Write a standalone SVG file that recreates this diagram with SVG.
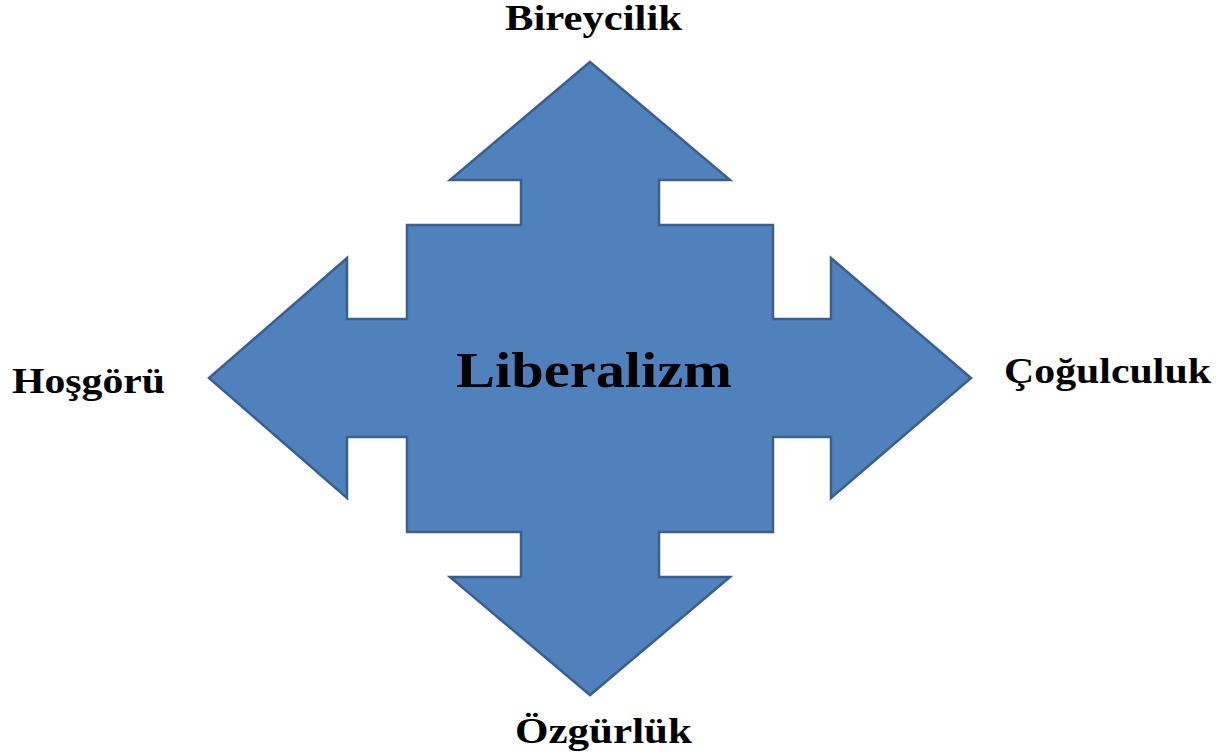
<svg xmlns="http://www.w3.org/2000/svg" width="1223" height="755" viewBox="0 0 1223 755">
<style>
.lbl{font-family:"Liberation Serif","Times New Roman",serif;font-weight:bold;fill:#000;}
.shape{fill:#4F81BD;stroke:#3A5F8C;stroke-width:2.5;stroke-linejoin:miter;}
</style>
<rect width="1223" height="755" fill="#fff"/>
<g id="connectors"></g>
<g id="liberalizm">
<path class="shape" d="M590,62 L730,180 L659,180 L659,225 L773,225 L773,319 L831,319 L831,258 L971,378 L831,498 L831,437 L773,437 L773,532 L659,532 L659,577 L730,577 L590,695 L450,577 L521,577 L521,532 L407,532 L407,437 L347,437 L347,498 L209,378 L347,258 L347,319 L407,319 L407,225 L521,225 L521,180 L450,180 Z"/>
<text class="lbl" x="456" y="387" font-size="50" textLength="276" lengthAdjust="spacingAndGlyphs">Liberalizm</text>
</g>
<g id="bireycilik"><text class="lbl" x="505" y="30" font-size="35" textLength="177" lengthAdjust="spacingAndGlyphs">Bireycilik</text></g>
<g id="hosgoru"><text class="lbl" x="12" y="393" font-size="35" textLength="153" lengthAdjust="spacingAndGlyphs">Hoşgörü</text></g>
<g id="cogulculuk"><text class="lbl" x="1004" y="383" font-size="35" textLength="207" lengthAdjust="spacingAndGlyphs">Çoğulculuk</text></g>
<g id="ozgurluk"><text class="lbl" x="515" y="743" font-size="35" textLength="177" lengthAdjust="spacingAndGlyphs">Özgürlük</text></g>
</svg>
